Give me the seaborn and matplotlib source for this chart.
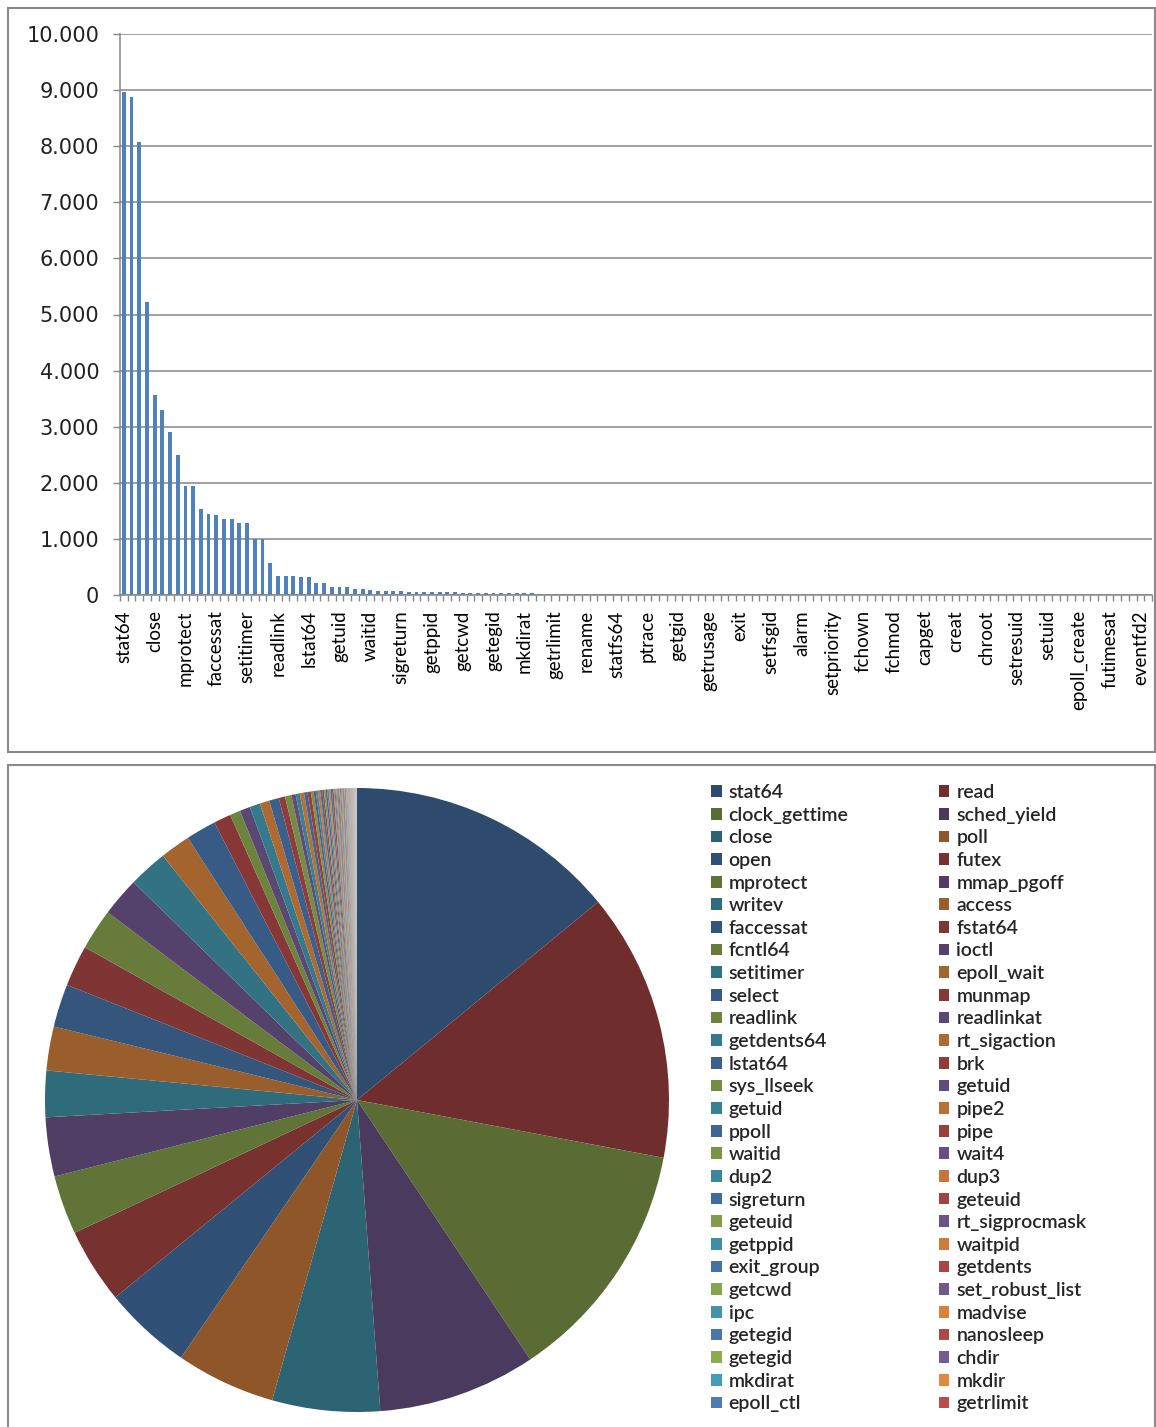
import numpy as np
import matplotlib
matplotlib.use("Agg")
import matplotlib.pyplot as plt
from matplotlib.patches import Rectangle
from matplotlib.ticker import FuncFormatter
import seaborn as sns

# Call counts per syscall, sorted by frequency (134 categories)
call_counts = [
    8970, 8880, 8080, 5220, 3560, 3290, 2910, 2490, 1950, 1950,
    1530, 1450, 1420, 1360, 1360, 1290, 1290, 1000, 1000, 570,
    345, 345, 345, 320, 320, 210, 210, 140, 140, 140,
    113, 113, 89, 71, 71, 71, 71, 53, 53, 53,
    53, 53, 53, 53, 32, 30, 32, 32, 30, 30,
    30, 28, 28, 28, 26, 26, 24, 22, 20, 12,
    12, 11, 11, 10, 10, 10, 9, 9, 9, 9,
    8, 8, 8, 8, 7, 7, 7, 7, 7, 6,
    6, 6, 6, 6, 6, 5, 5, 5, 5, 5,
    5, 5, 4, 4, 4, 4, 4, 4, 4, 4,
    3, 3, 3, 3, 3, 3, 3, 3, 3, 3,
    2, 2, 2, 2, 2, 2, 2, 2, 2, 2,
    2, 2, 1, 1, 1, 1, 1, 1, 1, 1,
    1, 1, 1, 1,
]

# Category-axis labels, shown on every fourth bar
axis_labels = [
    "stat64", "close", "mprotect", "faccessat", "setitimer", "readlink",
    "lstat64", "getuid", "waitid", "sigreturn", "getppid", "getcwd",
    "getegid", "mkdirat", "getrlimit", "rename", "statfs64", "ptrace",
    "getgid", "getrusage", "exit", "setfsgid", "alarm", "setpriority",
    "fchown", "fchmod", "capget", "creat", "chroot", "setresuid",
    "setuid", "epoll_create", "futimesat", "eventfd2",
]

# Names of the leading categories, in order, as listed in the pie legend
legend_names = [
    "stat64", "read", "clock_gettime", "sched_yield", "close", "poll",
    "open", "futex", "mprotect", "mmap_pgoff", "writev", "access",
    "faccessat", "fstat64", "fcntl64", "ioctl", "setitimer", "epoll_wait",
    "select", "munmap", "readlink", "readlinkat", "getdents64", "rt_sigaction",
    "lstat64", "brk", "sys_llseek", "getuid", "getuid", "pipe2",
    "ppoll", "pipe", "waitid", "wait4", "dup2", "dup3",
    "sigreturn", "geteuid", "geteuid", "rt_sigprocmask", "getppid", "waitpid",
    "exit_group", "getdents", "getcwd", "set_robust_list", "ipc", "madvise",
    "getegid", "nanosleep", "getegid", "chdir", "mkdirat", "mkdir",
    "epoll_ctl", "getrlimit",
]

W, H = 1156, 1427
sns.set_theme(style="white")
plt.rcParams["font.family"] = ["DejaVu Sans"]

fig = plt.figure(figsize=(W / 100, H / 100), dpi=100)
fig.patch.set_facecolor("white")


def px_rect(x0, y0, x1, y1):
    """Figure-fraction rect from pixel corners (top-left origin)."""
    return [x0 / W, 1 - y1 / H, (x1 - x0) / W, (y1 - y0) / H]


# Panel frames
for (x0, y0, x1, y1) in [(8, 8, 1155, 752), (8, 765, 1155, 1432)]:
    fig.add_artist(Rectangle((x0 / W, 1 - y1 / H), (x1 - x0) / W, (y1 - y0) / H,
                             transform=fig.transFigure, fill=False,
                             edgecolor="#8a8a8a", linewidth=1.5))

# ---------------- Bar chart ----------------
grid_col = "#868686"
n = len(call_counts)
positions = np.arange(n)
ax = fig.add_axes(px_rect(120, 34, 1152, 595))
sns.barplot(x=positions, y=call_counts, color="#4F81BD", saturation=1,
            width=0.5, linewidth=0, ax=ax)
ax.set_xlim(-0.5, n - 0.5)
ax.set_ylim(0, 10000)
ax.set_yticks(np.arange(0, 10001, 1000))
ax.yaxis.set_major_formatter(FuncFormatter(lambda v, _: f"{int(v):,}".replace(",", ".")))
ax.yaxis.grid(True, color=grid_col, linewidth=1.1)
ax.set_axisbelow(True)
for s in ("top", "right"):
    ax.spines[s].set_visible(False)
for s in ("left", "bottom"):
    ax.spines[s].set_color(grid_col)
    ax.spines[s].set_linewidth(1.1)

ax.set_xticks(positions[::4])
ax.set_xticklabels(axis_labels, rotation=90, fontfamily="Lato", fontsize=13.5,
                   color="black", va="top", ha="center")
ax.set_xticks(np.arange(-0.5, n, 1), minor=True)
ax.tick_params(axis="x", which="major", length=0, pad=11)
ax.tick_params(axis="x", which="minor", length=4.5, width=1, color=grid_col,
               bottom=True)
ax.tick_params(axis="y", length=5, width=1, color=grid_col, pad=10,
               labelsize=15, labelcolor="#222222", left=True)
ax.set_xlabel("")
ax.set_ylabel("")

# ---------------- Pie chart ----------------
accents = ["#4F81BD", "#C0504D", "#9BBB59", "#8064A2", "#4BACC6", "#F79646"]
n_cycles = int(np.ceil(n / 6))
colors = []
for i in range(n):
    base = np.array(matplotlib.colors.to_rgb(accents[i % 6]))
    t = -0.42 + 0.92 * (i // 6) / max(n_cycles - 1, 1)
    c = base * (1 + t) if t < 0 else base + (1 - base) * t
    colors.append(np.clip(c, 0, 1))

pax = fig.add_axes(px_rect(45, 788, 669, 1412))
wedges, _ = pax.pie(call_counts, colors=colors, startangle=90,
                    counterclock=False, radius=1,
                    wedgeprops=dict(linewidth=0))
pax.set_xlim(-1, 1)
pax.set_ylim(-1, 1)
pax.set_aspect("equal")
pax.axis("off")

# Two-column legend filled row by row
k = len(legend_names)
order = list(range(0, k, 2)) + list(range(1, k, 2))
leg = fig.legend([wedges[i] for i in order], [legend_names[i] for i in order],
                 ncol=2, loc="upper left", bbox_to_anchor=(711 / W, 1 - 784 / H),
                 frameon=False,
                 prop={"family": "Lato", "size": 14, "weight": "semibold"},
                 handlelength=0.55, handleheight=0.55, handletextpad=0.35,
                 labelspacing=0.29, columnspacing=4.65, borderpad=0,
                 borderaxespad=0)

fig.savefig("out.png", dpi=100, facecolor="white")
